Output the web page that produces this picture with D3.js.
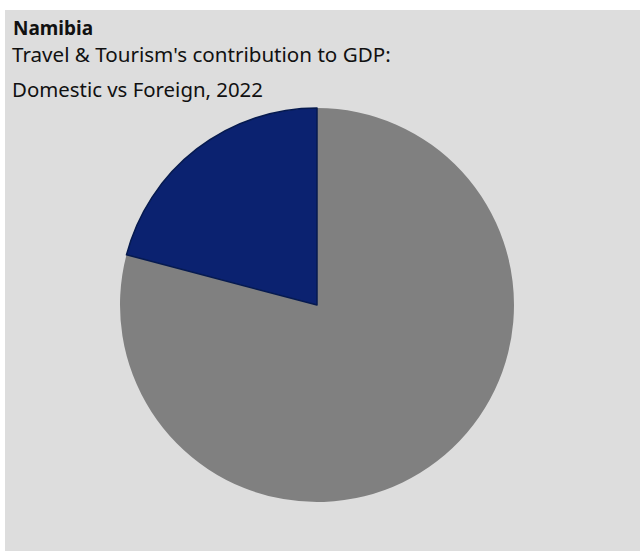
<!DOCTYPE html>
<html><head><meta charset="utf-8">
<script src="https://cdn.jsdelivr.net/npm/d3@7"></script>
<style>html,body{margin:0;padding:0;background:#fff;}svg{display:block;}</style>
</head><body>
<svg id="chart" width="640" height="551"></svg>
<script>
const categories = ["Foreign", "Domestic"];
const values = [79.1, 20.9];
const colors = ["#808080", "#0b2270"];
const strokes = ["none", "#061a4f"];

const svg = d3.select("#chart");
svg.append("rect").attr("x", 5).attr("y", 10).attr("width", 635).attr("height", 541).attr("fill", "#dddddd");

const font = "'Noto Sans', 'Open Sans', sans-serif";
svg.append("text").attr("x", 13).attr("y", 35).attr("font-family", font).attr("font-weight", "bold").attr("font-size", 19).attr("fill", "#111").text("Namibia");
svg.append("text").attr("x", 12).attr("y", 62).attr("font-family", font).attr("font-size", 20.6).attr("fill", "#111").text("Travel & Tourism's contribution to GDP:");
svg.append("text").attr("x", 12).attr("y", 97).attr("font-family", font).attr("font-size", 20.4).attr("fill", "#111").text("Domestic vs Foreign, 2022");

const cx = 317, cy = 305, r = 197;
const pie = d3.pie().sort(null).value(d => d.v);
const data = pie(categories.map((c, i) => ({c, v: values[i], i})));
const arc = d3.arc().innerRadius(0).outerRadius(r);
const g = svg.append("g").attr("transform", `translate(${cx},${cy})`);
g.selectAll("path").data(data).join("path")
  .attr("d", arc)
  .attr("fill", d => colors[d.data.i])
  .attr("stroke", d => strokes[d.data.i])
  .attr("stroke-width", 1.5)
  .attr("stroke-linejoin", "round");
</script>
</body></html>
